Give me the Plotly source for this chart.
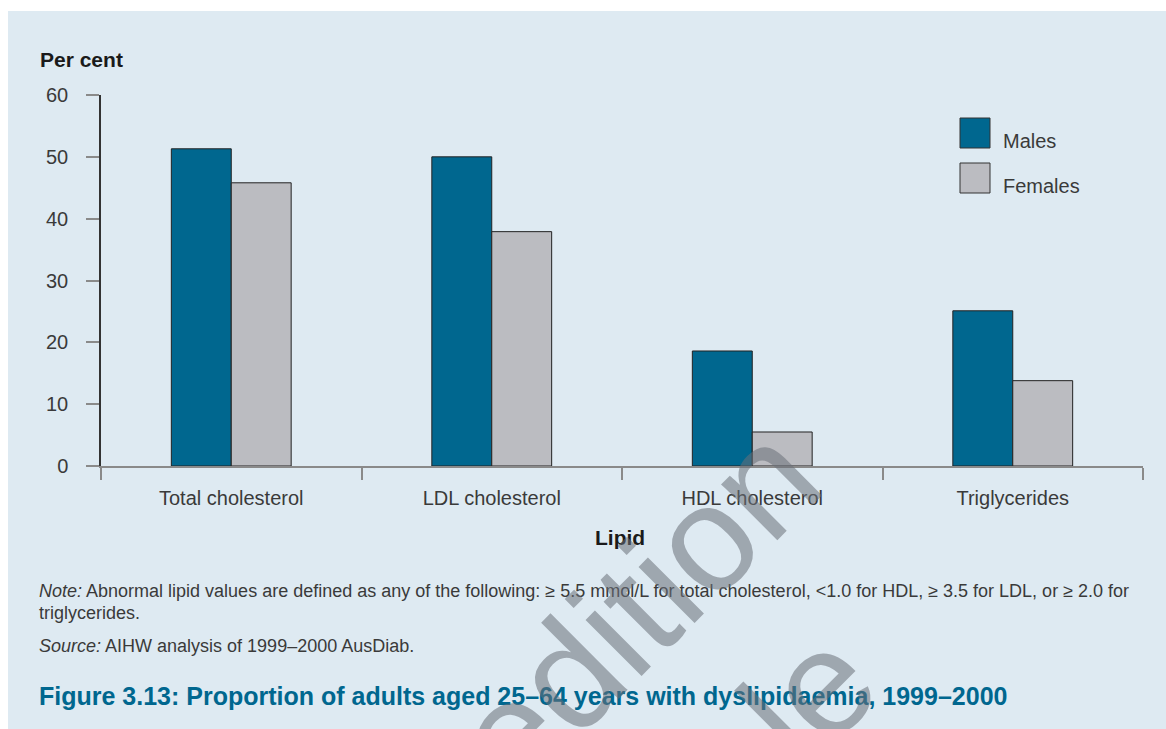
import plotly.graph_objects as go

# data
lipids = ["Total cholesterol", "LDL cholesterol", "HDL cholesterol", "Triglycerides"]
males = [51.3, 50.0, 18.6, 25.1]
females = [45.8, 37.9, 5.5, 13.8]
y_ticks = [0, 10, 20, 30, 40, 50, 60]

MALE_COL = "#00678f"
FEMALE_COL = "#bbbcc1"
PANEL = "#deeaf2"
TEXT = "#3a3a3a"
FONT = "Liberation Sans, Arial, sans-serif"

W, H = 1166, 729
L, R, T, B = 101, 23, 95, 263
PW, PH = W - L - R, H - T - B


def px(x):
    # screen pixel -> paper x
    return (x - L) / PW


def py(y):
    # screen pixel -> paper y
    return (H - B - y) / PH


fig = go.Figure()
fig.add_bar(x=lipids, y=males, name="Males", marker_color=MALE_COL,
            marker_line=dict(color="#222222", width=1), showlegend=False)
fig.add_bar(x=lipids, y=females, name="Females", marker_color=FEMALE_COL,
            marker_line=dict(color="#222222", width=1), showlegend=False)

shapes = [
    # light blue panel behind everything
    dict(type="rect", xref="paper", yref="paper", layer="below",
         x0=px(8), x1=px(1180), y0=py(11), y1=py(745),
         fillcolor=PANEL, line_width=0),
    # legend swatches
    dict(type="rect", xref="paper", yref="paper",
         x0=px(960), x1=px(990), y0=py(118), y1=py(148),
         fillcolor=MALE_COL, line=dict(color="#333333", width=1)),
    dict(type="rect", xref="paper", yref="paper",
         x0=px(960), x1=px(990), y0=py(163), y1=py(193),
         fillcolor=FEMALE_COL, line=dict(color="#333333", width=1)),
]

note = ("<i>Note:</i> Abnormal lipid values are defined as any of the following: "
        "\u2265 5.5 mmol/L for total cholesterol, <1.0 for HDL, \u2265 3.5 for LDL, "
        "or \u2265 2.0 for")

WM = "rgba(105,112,120,0.55)"
annotations = [
    dict(text="<b>Per cent</b>", x=px(38), y=py(59), xanchor="left", yanchor="middle",
         font=dict(size=21, color="#1a1a1a")),
    dict(text="<b>Lipid</b>", x=px(620), y=py(537), xanchor="center", yanchor="middle",
         font=dict(size=21, color="#1a1a1a")),
    dict(text="Males", x=px(1001), y=py(141), xanchor="left", yanchor="middle",
         font=dict(size=20, color=TEXT)),
    dict(text="Females", x=px(1001), y=py(186), xanchor="left", yanchor="middle",
         font=dict(size=20, color=TEXT)),
    dict(text=note, x=px(37), y=py(591), xanchor="left", yanchor="middle",
         font=dict(size=18, color=TEXT)),
    dict(text="triglycerides.", x=px(37), y=py(613), xanchor="left", yanchor="middle",
         font=dict(size=18, color=TEXT)),
    dict(text="<i>Source:</i> AIHW analysis of 1999\u20132000 AusDiab.", x=px(37), y=py(646),
         xanchor="left", yanchor="middle", font=dict(size=18, color=TEXT)),
    dict(text="<b>Figure 3.13: Proportion of adults aged 25\u201364 years with dyslipidaemia, 1999\u20132000</b>",
         x=px(37), y=py(696), xanchor="left", yanchor="middle",
         font=dict(size=25, color="#00678f")),
    # faint watermark over the page
    dict(text="edition", x=px(636), y=py(608), xanchor="center", yanchor="middle",
         textangle=-45, font=dict(size=150, color=WM)),
    dict(text="le", x=px(808), y=py(697), xanchor="center", yanchor="middle",
         textangle=-45, font=dict(size=150, color=WM)),
]
for a in annotations:
    a.update(xref="paper", yref="paper", showarrow=False)

fig.update_layout(
    width=W, height=H,
    margin=dict(l=L, r=R, t=T, b=B, pad=0),
    paper_bgcolor="white",
    plot_bgcolor="white",
    font=dict(family=FONT, color=TEXT, size=20),
    barmode="group",
    bargap=0.54,
    bargroupgap=0,
    shapes=shapes,
    annotations=annotations,
)
fig.update_xaxes(
    showgrid=False, showline=True, linecolor="#8a8a8a", linewidth=1.5,
    ticks="outside", ticklen=12, tickcolor="#8a8a8a", tickwidth=1.5,
    tickson="boundaries", ticklabelstandoff=13,
    tickfont=dict(size=20, color=TEXT),
)
fig.update_yaxes(
    range=[0, 60], tickvals=y_ticks, showgrid=False, zeroline=False,
    showline=True, linecolor="#333333", linewidth=1.5,
    ticks="outside", ticklen=13, tickcolor="#8a8a8a", tickwidth=1.5,
    ticklabelstandoff=14, tickfont=dict(size=20, color=TEXT),
)

# drop the page margin so the figure sits at the window's corner
fig.write_html("out.html", config={"displayModeBar": False},
               post_script="document.body.style.margin='0';document.body.style.overflow='hidden';")
